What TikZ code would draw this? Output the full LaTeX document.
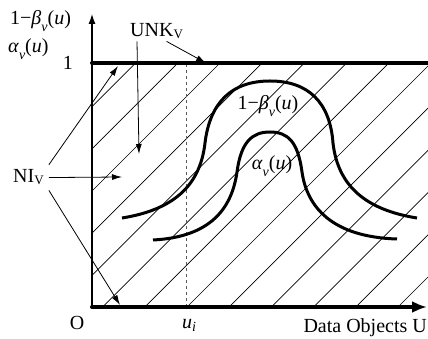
\documentclass[tikz,border=0pt]{standalone}
\usepackage{fontspec}
\setmainfont{Liberation Serif}
\usetikzlibrary{arrows.meta}
\newcommand{\lowsub}[2][0.35em]{\raisebox{-#1}{\fontsize{14}{14}\selectfont\itshape #2}}
\newcommand{\setsub}[1]{\raisebox{-0.1em}{\fontsize{13}{13}\selectfont #1}}

\begin{document}
\begin{tikzpicture}[
    x=1pt, y=1pt,
    lbl/.style={inner sep=0pt, font=\fontsize{20}{24}\selectfont},
    axis/.style={line width=1.1pt, -{Latex[length=10pt,width=7pt]}},
    bound/.style={line width=4pt, line cap=round},
    hatch/.style={line width=0.7pt},
    curve/.style={line width=3pt},
    pointer/.style={line width=0.8pt, -{Latex[length=10pt,width=6pt]}}
  ]
  \useasboundingbox (-92,-32) rectangle (336,307);
  % Hatching
  \begin{scope}
    \clip (0,0) rectangle (336,244);
    \foreach \k in {-8,...,7}
      \draw[hatch] (95+42.2*\k,0) -- ++(244,244);
  \end{scope}
  % Axes
  \draw[dashed, gray!70!black, line width=0.8pt] (94,0) -- (94,244);
  \draw[axis] (0,0) -- (0,293);
  \draw[bound, -{Latex[length=15pt,width=12pt]}] (0,0) -- (335,0);
  \draw[bound] (0,244) -- (336,244);
  % Membership curves
  \draw[curve] (30,89) .. controls (80,97) and (108,120) .. (113,164)
    .. controls (118,205) and (140,226) .. (178,226)
    .. controls (216,226) and (238,205) .. (241,164)
    .. controls (246,120) and (275,97) .. (325,89);
  \draw[curve] (61,67) .. controls (120,70) and (140,100) .. (145,135)
    .. controls (149,165) and (160,175) .. (178,175)
    .. controls (196,175) and (206,165) .. (210,135)
    .. controls (215,100) and (240,70) .. (305,68);
  % Labels
  \node[lbl, anchor=base west] (ybeta) at (-82,282)
        {1−\textit{β}\lowsub{v}(\textit{u})};
  \node[lbl, anchor=base west] (yalpha) at (-84,254)
        {\textit{α}\lowsub{v}(\textit{u})};
  \node[lbl, anchor=base east] (one) at (-19,237) {1};
  \node[lbl, anchor=base] (orig) at (-15,-23) {O};
  \node[lbl, anchor=base west] (ui) at (90,-22) {\textit{u}\lowsub[0.15em]{i}};
  \node[lbl, anchor=base east] (data) at (335,-26) {Data Objects U};
  \node[lbl, anchor=base] (cbeta) at (176,197) {1−\textit{β}\lowsub{v}(\textit{u})};
  \node[lbl, anchor=base] (calpha) at (180,137) {\textit{α}\lowsub{v}(\textit{u})};
  \node[lbl, anchor=base west, inner sep=2pt] (unk) at (36,270) {UNK\setsub{V}};
  \node[lbl, anchor=base west, inner sep=5pt] (ni) at (-84,124) {NI\setsub{V}};
  % Pointers
  \coordinate (unkdown) at (47,153);
  \coordinate (unktop) at (114,244);
  \coordinate (nitop) at (26,241);
  \coordinate (nimid) at (30,130);
  \coordinate (nibot) at (28,2);
  \draw[pointer] ([xshift=9pt]unk.south west) -- (unkdown);
  \draw[pointer] ([xshift=10pt]unk.south) -- (unktop);
  \draw[pointer] (ni.north east) -- (nitop);
  \draw[pointer] (ni.east) -- (nimid);
  \draw[pointer] (ni.south east) -- (nibot);
\end{tikzpicture}
\end{document}
